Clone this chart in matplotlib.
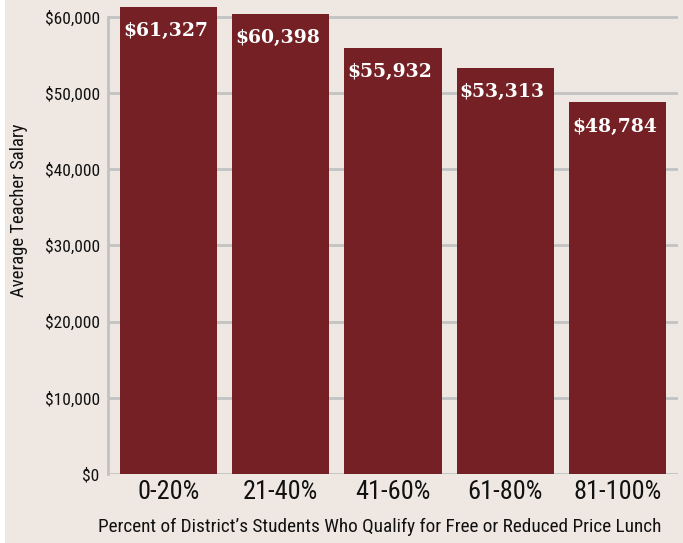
import matplotlib
matplotlib.use("Agg")
import matplotlib.pyplot as plt
from matplotlib.patches import Rectangle
from matplotlib.ticker import FuncFormatter

categories = ["0-20%", "21-40%", "41-60%", "61-80%", "81-100%"]
salaries = [61327, 60398, 55932, 53313, 48784]
y_ticks = [0, 10000, 20000, 30000, 40000, 50000, 60000]

BG = "#efe8e2"
BAR = "#742024"
GRID = "#c2c2c2"
NARROW = ["Liberation Sans Narrow", "Roboto Condensed", "DejaVu Sans"]
SLAB = ["DejaVu Serif"]

W, H = 683, 543
fig = plt.figure(figsize=(W / 100, H / 100), dpi=100, facecolor=BG)
fig.patches.append(Rectangle((0, 0), 5 / W, 1, transform=fig.transFigure,
                             facecolor="white", edgecolor="none", zorder=0))

# axes box in pixels: left 108, right 678, bottom (y=0) at 474
left, right = 108, 678
y0_px = 474
px_per_unit = 76.2 / 10000
ymax = 62000
top_px = y0_px - ymax * px_per_unit
ax = fig.add_axes([left / W, (H - y0_px) / H, (right - left) / W, (y0_px - top_px) / H])
ax.set_facecolor(BG)

x = range(len(categories))
bars = ax.bar(x, salaries, width=0.865, color=BAR, zorder=3, clip_on=False)
ax.set_xlim(-0.54, 4.54)
ax.set_ylim(0, ymax)

ax.set_yticks(y_ticks)
ax.yaxis.set_major_formatter(FuncFormatter(lambda v, p: f"${v:,.0f}"))
for yv in y_ticks:
    ax.axhline(yv, color=GRID, lw=2, zorder=1)

for s in ["top", "right", "bottom"]:
    ax.spines[s].set_visible(False)
ax.spines["left"].set_color(GRID)
ax.spines["left"].set_linewidth(2)
ax.spines["left"].set_bounds(0, 60000)
ax.spines["left"].set_zorder(1)

ax.tick_params(axis="y", length=0, pad=6, labelsize=12.5)
ax.tick_params(axis="x", length=0, pad=4, labelsize=19)
ax.set_xticks(list(x))
ax.set_xticklabels(categories)
for lab in ax.get_yticklabels() + ax.get_xticklabels():
    lab.set_family(NARROW)
    lab.set_color("#111111")

for b, v in zip(bars, salaries):
    ax.annotate(f"${v:,}", (b.get_x() + b.get_width() / 2, v),
                xytext=(-2, -11), textcoords="offset points", ha="center", va="top",
                color="white", fontsize=13.5, fontweight="bold", family=SLAB, zorder=4)

fig.text(19 / W, 1 - 210 / H, "Average Teacher Salary", rotation=90, ha="center",
         va="center", fontsize=13.5, family=NARROW, color="#111111")
fig.text(380 / W, 1 - 527 / H,
         "Percent of District\u2019s Students Who Qualify for Free or Reduced Price Lunch",
         ha="center", va="center", fontsize=13.9, family=NARROW, color="#111111")

fig.savefig("out.png", dpi=100, facecolor=BG)
